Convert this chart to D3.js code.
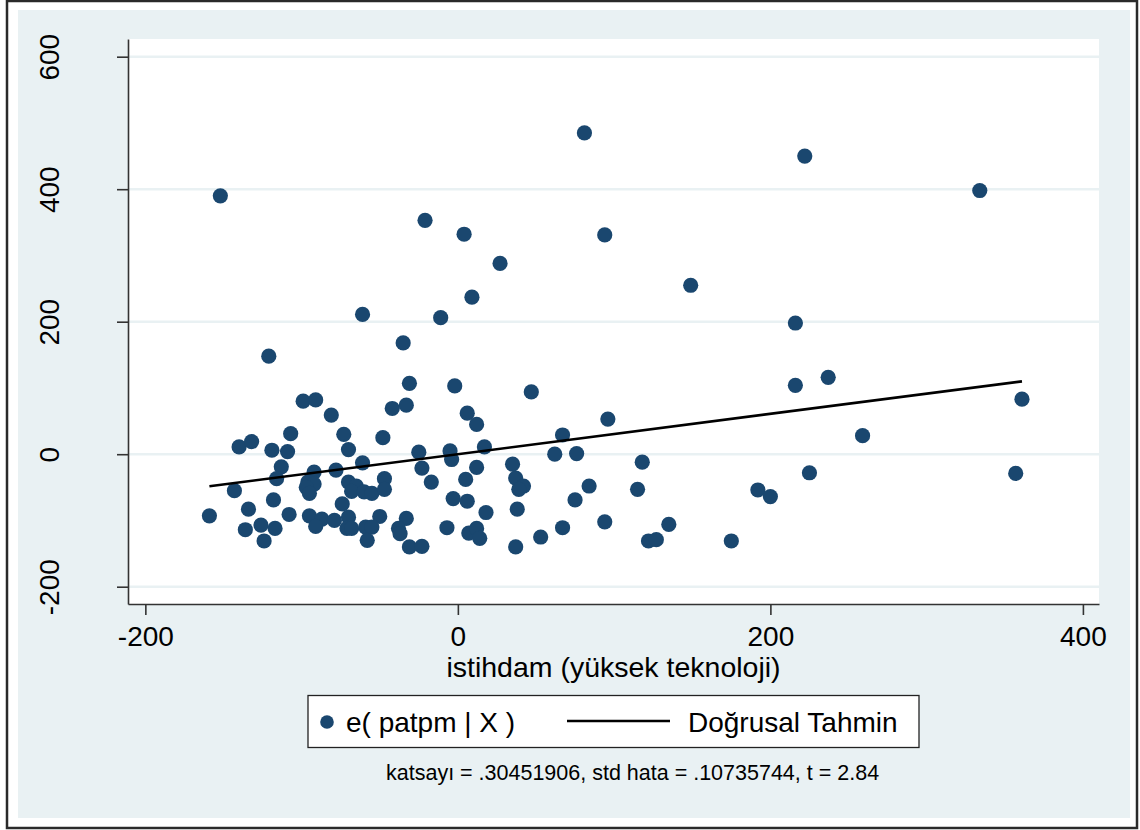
<!DOCTYPE html>
<html>
<head>
<meta charset="utf-8">
<script src="https://cdn.jsdelivr.net/npm/d3@7"></script>
<style>
  html, body { margin: 0; padding: 0; background: #ffffff; }
  svg { display: block; }
  text { font-family: "Liberation Sans", Arial, Helvetica, sans-serif; fill: #000; }
</style>
</head>
<body>
<svg id="chart" width="1140" height="830"></svg>
<script>
// ---------------- data ----------------
const xValues = [
  81, 222, 334, -152, -21, 4, 94, 27, 149, 9,
  -61, -11, 216, -121, -35, -31, -2, -99, -91, -42,
  -33, -81, 6, 12, -107, -73, -48, -140, -132, -119,
  -109, -70, -25, -5, -4, 17, -113, -61, -78, -92,
  -116, -23, 12, 5, -17, -96, -92, -97, -95, -143,
  -70, -65, -68, -60, -55, -47, -47, -74, -118, -3,
  6, -134, -159, -108, -95, -87, -79, -70, -50, -33,
  18, -136, -126, -117, -91, -71, -68, -59, -55, -38,
  -37, -7, 7, 12, 14, -124, -58, -31, -23, 47,
  96, 67, 62, 76, 35, 118, 37, 42, 39, 84,
  115, 75, 38, 37, 53, 67, 94, 122, 127, 135,
  216, 237, 361, 259, 225, 357, 192, 200, 175
];
const yValues = [
  485, 450, 398, 390, 353, 332, 331, 288, 255, 237,
  211, 206, 198, 148, 168, 107, 103, 80, 82, 69,
  74, 59, 62, 45, 31, 30, 25, 11, 19, 6,
  4, 7, 3, 5, -8, 11, -19, -13, -24, -27,
  -37, -21, -20, -38, -42, -42, -45, -50, -59, -55,
  -42, -48, -56, -57, -59, -37, -53, -75, -69, -67,
  -71, -83, -93, -91, -93, -98, -100, -95, -94, -97,
  -88, -114, -107, -112, -109, -112, -112, -110, -110, -112,
  -120, -111, -119, -112, -127, -131, -130, -140, -139, 94,
  53, 29, 0, 1, -15, -12, -36, -48, -53, -48,
  -53, -69, -83, -140, -125, -111, -102, -131, -129, -106,
  104, 116, 83, 28, -28, -29, -54, -64, -131
];
const coefficient = 0.30451906;   // slope of the fitted line
const intercept = 0;              // added-variable plot line passes through the origin
const xTicks = [-200, 0, 200, 400];
const yTicks = [-200, 0, 200, 400, 600];
const xTitle = "istihdam (yüksek teknoloji)";
const legendLabels = ["e( patpm | X )", "Doğrusal Tahmin"];
const noteText = "katsayı = .30451906, std hata = .10735744, t = 2.84";

// ---------------- drawing ----------------
const svg = d3.select("#chart");
const W = 1140, H = 830;
const navy = "#1a476f";
const bluish = "#e9f1f3";
const fmt = d => String(d);   // plain hyphen-minus, as in the reference

const plot = { left: 128, right: 1099, top: 39, bottom: 604 };
const x = d3.scaleLinear().domain([-211.1, 410.3]).range([plot.left, plot.right]);
const y = d3.scaleLinear().domain([-226.1, 626.7]).range([plot.bottom, plot.top]);

// outer frame
svg.append("rect").attr("x", 0).attr("y", 0).attr("width", W).attr("height", H).attr("fill", "#ffffff");
svg.append("rect").attr("x", 7).attr("y", 1).attr("width", 1130).attr("height", 827)
  .attr("fill", "#ffffff").attr("stroke", "#2a2a2a").attr("stroke-width", 2.5);
// graph region
svg.append("rect").attr("x", 18).attr("y", 10).attr("width", 1112).attr("height", 808).attr("fill", bluish);
// plot region
svg.append("rect").attr("x", plot.left).attr("y", plot.top)
  .attr("width", plot.right - plot.left).attr("height", plot.bottom - plot.top).attr("fill", "#ffffff");

// grid lines
svg.append("g").selectAll("line").data(yTicks).join("line")
  .attr("x1", plot.left).attr("x2", plot.right)
  .attr("y1", d => y(d)).attr("y2", d => y(d))
  .attr("stroke", bluish).attr("stroke-width", 2.5);

// axes
const yAxis = svg.append("g").attr("transform", `translate(${plot.left},0)`)
  .call(d3.axisLeft(y).tickValues(yTicks).tickSize(11).tickSizeOuter(0).tickFormat(fmt));
yAxis.select(".domain").attr("stroke", "#333").attr("stroke-width", 1.6);
yAxis.selectAll(".tick line").attr("stroke", "#333").attr("stroke-width", 1.6);
yAxis.selectAll(".tick text")
  .attr("transform", "rotate(-90)")
  .attr("x", 0).attr("y", -69).attr("dy", 0)
  .attr("text-anchor", "middle")
  .style("font-size", "28px").style("font-family", "'Liberation Sans', Arial, sans-serif").attr("fill", "#000");

const xAxis = svg.append("g").attr("transform", `translate(0,${plot.bottom})`)
  .call(d3.axisBottom(x).tickValues(xTicks).tickSize(11).tickSizeOuter(0).tickFormat(fmt));
xAxis.select(".domain").attr("stroke", "#333").attr("stroke-width", 1.6);
xAxis.selectAll(".tick line").attr("stroke", "#333").attr("stroke-width", 1.6);
xAxis.selectAll(".tick text")
  .attr("y", 42).attr("dy", 0)
  .style("font-size", "28px").style("font-family", "'Liberation Sans', Arial, sans-serif").attr("fill", "#000");

// axis title
svg.append("text").attr("x", (plot.left + plot.right) / 2).attr("y", 677)
  .attr("text-anchor", "middle").style("font-size", "28.5px").text(xTitle);

// points
const points = xValues.map((v, i) => ({ x: v, y: yValues[i] }));
svg.append("g").selectAll("circle").data(points).join("circle")
  .attr("cx", d => x(d.x)).attr("cy", d => y(d.y)).attr("r", 7.6)
  .attr("fill", navy);

// fitted line
const xExt = d3.extent(xValues);
const linePts = xExt.map(v => ({ x: v, y: intercept + coefficient * v }));
svg.append("path").datum(linePts)
  .attr("d", d3.line().x(d => x(d.x)).y(d => y(d.y)))
  .attr("stroke", "#000").attr("stroke-width", 2.6).attr("fill", "none");

// legend
const lg = svg.append("g");
lg.append("rect").attr("x", 308).attr("y", 695.5).attr("width", 611).attr("height", 52)
  .attr("fill", "#ffffff").attr("stroke", "#222").attr("stroke-width", 1.3);
lg.append("circle").attr("cx", 327).attr("cy", 722).attr("r", 6.8).attr("fill", navy);
lg.append("text").attr("x", 346).attr("y", 731.5).style("font-size", "28px").text(legendLabels[0]);
lg.append("line").attr("x1", 567).attr("x2", 670).attr("y1", 721).attr("y2", 721)
  .attr("stroke", "#000").attr("stroke-width", 2.6);
lg.append("text").attr("x", 688).attr("y", 731.5).style("font-size", "28px").text(legendLabels[1]);

// note
svg.append("text").attr("x", 386).attr("y", 780).style("font-size", "21.5px").text(noteText);
</script>
</body>
</html>
